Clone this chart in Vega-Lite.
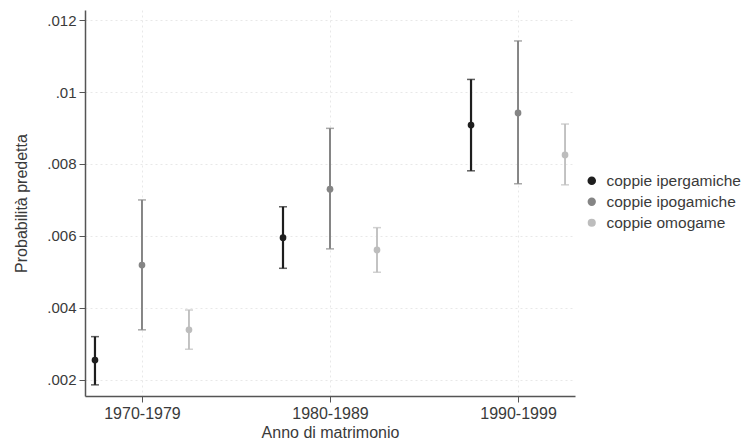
{
  "$schema": "https://vega.github.io/schema/vega-lite/v6.json",
  "autosize": {"type": "none"},
  "width": 490,
  "height": 386,
  "padding": {"left": 85, "top": 10, "right": 170, "bottom": 47},
  "background": "white",
  "config": {
    "font": "Liberation Sans",
    "view": {"stroke": null},
    "axis": {
      "labelFont": "Liberation Sans",
      "titleFont": "Liberation Sans",
      "titleFontWeight": "normal",
      "labelColor": "#3a3a3a",
      "titleColor": "#3a3a3a",
      "domainColor": "#555555",
      "tickColor": "#555555",
      "domainWidth": 1.5,
      "tickSize": 6,
      "gridColor": "#e8e8e8",
      "gridDash": [2, 3],
      "gridWidth": 1
    }
  },
  "data": {
    "values": [
      {"periodo": "1970-1979", "gruppo": "coppie ipergamiche", "p": 0.00255, "lo": 0.00186, "hi": 0.00320},
      {"periodo": "1970-1979", "gruppo": "coppie ipogamiche", "p": 0.00519, "lo": 0.00339, "hi": 0.00700},
      {"periodo": "1970-1979", "gruppo": "coppie omogame", "p": 0.00339, "lo": 0.00285, "hi": 0.00394},
      {"periodo": "1980-1989", "gruppo": "coppie ipergamiche", "p": 0.00595, "lo": 0.00510, "hi": 0.00681},
      {"periodo": "1980-1989", "gruppo": "coppie ipogamiche", "p": 0.00730, "lo": 0.00564, "hi": 0.00899},
      {"periodo": "1980-1989", "gruppo": "coppie omogame", "p": 0.00561, "lo": 0.00499, "hi": 0.00623},
      {"periodo": "1990-1999", "gruppo": "coppie ipergamiche", "p": 0.00908, "lo": 0.00781, "hi": 0.01035},
      {"periodo": "1990-1999", "gruppo": "coppie ipogamiche", "p": 0.00942, "lo": 0.00745, "hi": 0.01142},
      {"periodo": "1990-1999", "gruppo": "coppie omogame", "p": 0.00825, "lo": 0.00742, "hi": 0.00911}
    ]
  },
  "encoding": {
    "x": {
      "field": "periodo",
      "type": "ordinal",
      "scale": {"type": "point", "padding": 0.303},
      "axis": {"title": "Anno di matrimonio", "labelAngle": 0, "labelPadding": 3, "titlePadding": 3, "grid": true, "labelFontSize": 16, "titleFontSize": 16}
    },
    "xOffset": {
      "field": "gruppo",
      "type": "nominal",
      "scale": {"type": "point", "range": [-47, 47], "padding": 0}
    },
    "color": {
      "field": "gruppo",
      "type": "nominal",
      "scale": {
        "domain": ["coppie ipergamiche", "coppie ipogamiche", "coppie omogame"],
        "range": ["#1e1e1e", "#858585", "#bdbdbd"]
      },
      "legend": {
        "title": null,
        "orient": "none",
        "legendX": 499,
        "legendY": 163,
        "symbolSize": 40,
        "symbolType": "circle",
        "symbolStrokeWidth": 0,
        "symbolOpacity": 1,
        "rowPadding": 4,
        "labelOffset": 7,
        "labelFontSize": 15.5,
        "labelLimit": 200,
        "labelFont": "Liberation Sans",
        "labelColor": "#3a3a3a"
      }
    }
  },
  "layer": [
    {
      "mark": {"type": "rule"},
      "encoding": {
        "y": {
          "field": "lo",
          "type": "quantitative",
          "scale": {"domain": [0.00155, 0.01228], "nice": false, "zero": false},
          "axis": {
            "title": "Probabilità predetta",
            "values": [0.002, 0.004, 0.006, 0.008, 0.01, 0.012],
            "labelExpr": "replace(format(datum.value, '.3~f'), '0.', '.')",
            "titlePadding": 17,
            "labelPadding": 3,
            "labelFontSize": 15,
            "titleFontSize": 16
          }
        },
        "y2": {"field": "hi"},
        "strokeWidth": {
          "field": "gruppo",
          "type": "nominal",
          "scale": {"domain": ["coppie ipergamiche", "coppie ipogamiche", "coppie omogame"], "range": [2.2, 1.8, 1.5]},
          "legend": null
        }
      }
    },
    {
      "mark": {"type": "tick", "size": 8, "thickness": 1.5, "orient": "horizontal"},
      "encoding": {"y": {"field": "lo", "type": "quantitative"}}
    },
    {
      "mark": {"type": "tick", "size": 8, "thickness": 1.5, "orient": "horizontal"},
      "encoding": {"y": {"field": "hi", "type": "quantitative"}}
    },
    {
      "mark": {"type": "point", "filled": true, "opacity": 1, "size": 45},
      "encoding": {"y": {"field": "p", "type": "quantitative"}}
    }
  ]
}
